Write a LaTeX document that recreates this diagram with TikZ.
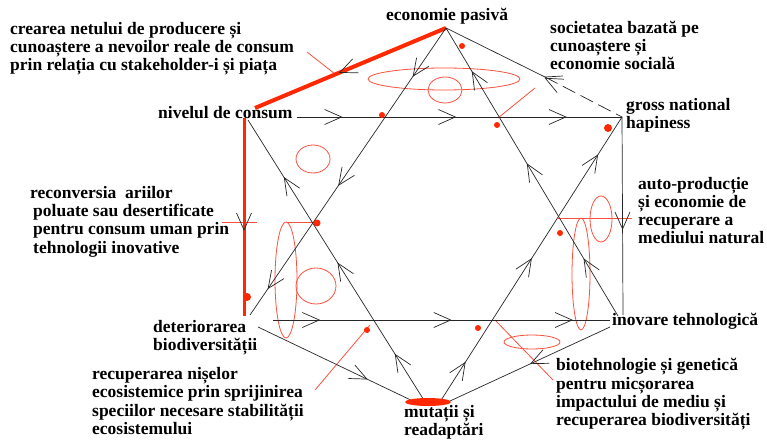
\documentclass[tikz,border=0pt]{standalone}
\usepackage{fontspec}
\setmainfont{Liberation Serif}
\usetikzlibrary{arrows.meta,decorations.markings}
\definecolor{rd}{RGB}{255,40,0}
\definecolor{lrd}{RGB}{250,80,60}
\tikzset{
  lbl/.style={font=\fontsize{17.5}{18.3}\selectfont\bfseries, inner sep=0pt, align=left, anchor=west},
  blk/.style={line width=0.7pt, black!85},
  barb/.style={postaction={decorate,decoration={markings,mark=at position #1 with {\arrow[black!85,line width=0.7pt]{Straight Barb[length=17pt,width=15pt]}}}}},
  rthin/.style={lrd, line width=0.8pt},
  rdot/.style={fill=rd, draw=none},
}
\begin{document}
\begin{tikzpicture}[x=1pt,y=-1pt]
\useasboundingbox (0,0) rectangle (767,441);
% vertices
\coordinate (T) at (446,28);
\coordinate (UL) at (255,108);
\coordinate (ULv) at (244,118);
\coordinate (LLv) at (244,316);
\coordinate (UR) at (622,117);
\coordinate (LR) at (623,315);
\coordinate (LLh) at (258,327);
\coordinate (Bl) at (417,403);
\coordinate (Br) at (450,401);
\coordinate (LRh) at (610,327);
\coordinate (D) at (545,77);
\coordinate (Ds) at (563,76);
% star
\coordinate (SLL) at (250,315);
\coordinate (SLR) at (618,316);
\coordinate (H1a) at (297,117);
\coordinate (H2a) at (273,320);
\coordinate (H2b) at (610,320);
\coordinate (SUL) at (248,120);
\coordinate (SB1) at (427,405);
\coordinate (SB2) at (438,405);

% red ellipses
\draw[rthin] (444,79) ellipse [x radius=76pt, y radius=11pt];
\draw[rthin] (445,90) ellipse [x radius=17pt, y radius=13pt];
\draw[rthin] (313,159) ellipse [x radius=17pt, y radius=14pt];
\draw[rthin] (286,280) ellipse [x radius=11pt, y radius=58pt];
\draw[rthin] (316,286) ellipse [x radius=20pt, y radius=18pt];
\draw[rthin] (581,274) ellipse [x radius=9pt, y radius=56pt];
\draw[rthin] (601,219) ellipse [x radius=11pt, y radius=23pt];
\draw[rthin] (532,342) ellipse [x radius=28pt, y radius=7pt];

% red leader lines
\coordinate (r1a) at (307,52); \coordinate (r1b) at (335,74);
\coordinate (r2a) at (535,88); \coordinate (r2b) at (498,118);
\coordinate (r3a) at (222,222); \coordinate (r3b) at (257,222);
\coordinate (r4a) at (287,222); \coordinate (r4b) at (317,222);
\coordinate (r5a) at (558,218); \coordinate (r5b) at (632,218);
\coordinate (r6a) at (315,390); \coordinate (r6b) at (370,325);
\coordinate (r7a) at (495,320); \coordinate (r7b) at (553,380);
\draw[rthin] (r1a) -- (r1b);
\draw[rthin] (r2a) -- (r2b);
\draw[rthin] (r3a) -- (r3b);
\draw[rthin] (r4a) -- (r4b);
\draw[rthin] (r5a) -- (r5b);
\draw[rthin] (r6a) -- (r6b);
\draw[rthin] (r7a) -- (r7b);

% hexagon
\draw[rd, line width=4pt, barb=0.56] (T) -- (UL);
\draw[rd, line width=3pt, barb=0.57] (ULv) -- (LLv);
\draw[blk, barb=0.69] (LLh) -- (Bl);
\draw[blk, barb=0.5] (LRh) -- (Br);
\draw[blk, barb=0.57] (UR) -- (LR);
\draw[blk] (T) -- (D);
\draw[blk] (D) -- (Ds);
\draw[blk, dash pattern=on 14pt off 6pt] (D) -- (UR);
\path[barb=0.44] (UR) -- (T);

% star
\draw[blk, barb=0.17, barb=0.55, barb=0.91] (T) -- (SLL);
\draw[blk, barb=0.20, barb=0.53, barb=0.85] (SLR) -- (T);
\draw[blk, barb=0.14, barb=0.49, barb=0.83] (H1a) -- (UR);
\draw[blk, barb=0.14, barb=0.53, barb=0.89] (H2a) -- (H2b);
\draw[blk, barb=0.18, barb=0.50, barb=0.80] (SB1) -- (SUL);
\draw[blk, barb=0.15, barb=0.51, barb=0.87] (SB2) -- (UR);

% red dots
\fill[rdot] (462,46) circle (3pt);
\fill[rdot] (608,128) circle (4pt);
\fill[rdot] (497,125) circle (3pt);
\fill[rdot] (382,115) circle (3pt);
\fill[rdot] (317,223) circle (3.5pt);
\fill[rdot] (367,330) circle (3pt);
\fill[rdot] (560,233) circle (3pt);
\fill[rdot] (478,328) circle (3pt);
\fill[rdot] (247,297) circle (4pt);
\fill[rdot] (428,402) ellipse [x radius=23pt, y radius=4pt];

% labels
\node[lbl] (crearea) at (10,48.5) {crearea netului de producere și\\cunoaștere a nevoilor reale de consum\\prin relația cu stakeholder-i și piața};
\node[lbl, anchor=center] (pasiva) at (447,16) {economie pasivă};
\node[lbl] (soc) at (550,45.5) {societatea bazată pe\\cunoaștere și\\economie socială};
\node[lbl] (gnh) at (626,115.5) {gross national\\hapiness};
\node[lbl] (niv) at (158,113) {nivelul de consum};
\node[lbl] (recon) at (30,221.5) {reconversia\ \ ariilor\\\hspace*{3pt}poluate sau desertificate\\\hspace*{3pt}pentru consum uman prin\\\hspace*{3pt}tehnologii inovative};
\node[lbl] (auto) at (638,210.5) {auto-producție\\și economie de\\recuperare a\\mediului natural};
\node[lbl] (det) at (153,337.5) {deteriorarea\\biodiversității};
\node[lbl] (nise) at (92,401) {recuperarea nișelor\\ecosistemice prin sprijinirea\\speciilor necesare stabilității\\ecosistemului};
\node[lbl] (inov) at (612,321) {inovare tehnologică};
\node[lbl] (bio) at (556,394.5) {biotehnologie și genetică\\pentru micșorarea\\impactului de mediu și\\recuperarea biodiversități};
\node[lbl] (mut) at (404,422) {mutații și\\readaptări};
\end{tikzpicture}
\end{document}
